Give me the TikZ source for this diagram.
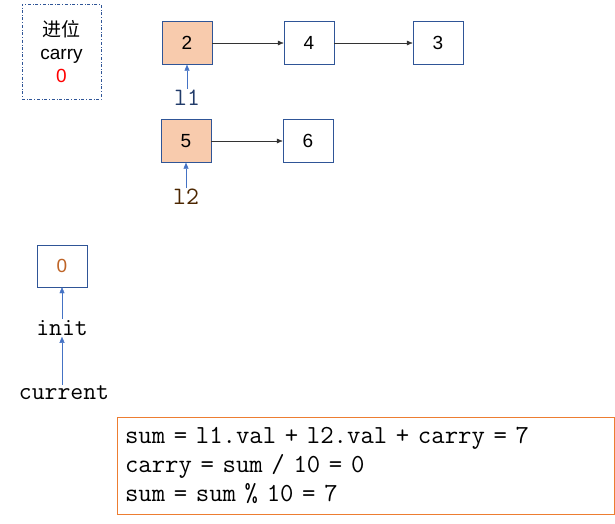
\documentclass[tikz,border=0pt]{standalone}
\usepackage{fontspec}
\setmainfont{Liberation Sans}
\newfontfamily\cjk{Noto Sans CJK SC}
\usetikzlibrary{arrows.meta}
\definecolor{bord}{HTML}{2F5597}
\definecolor{fillo}{HTML}{F8CBAD}
\definecolor{ptr}{HTML}{4472C4}
\definecolor{orng}{HTML}{ED7D31}
\begin{document}
\begin{tikzpicture}[x=1pt,y=-1pt,
  listbox/.style={draw=bord,minimum width=50pt,minimum height=43pt,inner sep=0pt,font=\fontsize{19}{20}\selectfont},
  hot/.style={listbox,fill=fillo},
  link/.style={-{Latex[length=6pt,width=5pt]},draw=black!80},
  ptrarrow/.style={-{Triangle[length=6pt,width=5pt]},draw=ptr},
  lbl/.style={font=\ttfamily\fontsize{25}{26}\selectfont,inner sep=1pt}]
\useasboundingbox (0,0) rectangle (615,523);
\node[draw=bord,dash dot,minimum width=79pt,minimum height=95pt,align=center,inner sep=0pt,font=\fontsize{19}{23}\selectfont] (carry) at (61.5,51.5) {{\cjk 进位}\\carry\\\textcolor{red}{0}};
\node[hot] (n2) at (187,43) {2};
\node[listbox] (n4) at (309,43) {4};
\node[listbox] (n3) at (438,43) {3};
\node[hot] (n5) at (186,141) {5};
\node[listbox] (n6) at (308,141) {6};
\node[lbl,text=bord!70!black] (l1) at (187,98) {l1};
\node[lbl,text=black!70!orange] (l2) at (186,197) {l2};
\node[listbox,minimum height=42pt] (z) at (62,266) {\textcolor{orng!80!black}{0}};
\node[lbl] (init) at (62,328) {init};
\node[lbl] (cur) at (64,393) {current};
\node[draw=orng,minimum width=497pt,minimum height=97pt,inner sep=8pt,align=left,text width=481pt,font=\ttfamily\fontsize{26}{29}\selectfont] (code) at (365.5,465.5)
  {sum = l1.val + l2.val + carry = 7\\carry = sum / 10 = 0\\sum = sum \% 10 = 7};
\draw[link] (n2) -- (n4);
\draw[link] (n4) -- (n3);
\draw[link] (n5) -- (n6);
\draw[ptrarrow] (l1) -- (n2);
\draw[ptrarrow] (l2) -- (n5);
\draw[ptrarrow] (init) -- (z);
\draw[ptrarrow] (init.south|-cur.north) -- (init);
\end{tikzpicture}
\end{document}
